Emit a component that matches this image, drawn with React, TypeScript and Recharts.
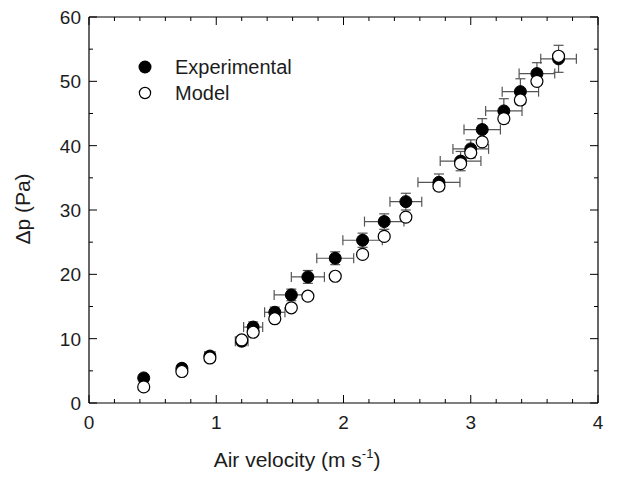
import { ScatterChart, Scatter, XAxis, YAxis, ErrorBar, Label } from 'recharts';

// air velocity (m/s) of each measurement
const velocity = [0.43, 0.73, 0.95, 1.2, 1.29, 1.46, 1.59, 1.72, 1.935, 2.15, 2.32, 2.49, 2.75, 2.92, 3.0, 3.09, 3.26, 3.39, 3.52, 3.69];
const dpExperimental = [3.9, 5.4, 7.3, 9.6, 11.8, 14.1, 16.8, 19.6, 22.5, 25.3, 28.2, 31.3, 34.3, 37.6, 39.5, 42.5, 45.4, 48.4, 51.2, 53.5];
const dpModel = [2.5, 4.9, 7.0, 9.8, 11.0, 13.1, 14.8, 16.6, 19.7, 23.1, 25.9, 28.9, 33.7, 37.2, 38.9, 40.6, 44.2, 47.1, 50.0, 53.9];
const velocityErr = [0.02, 0.03, 0.04, 0.05, 0.075, 0.08, 0.135, 0.13, 0.145, 0.155, 0.155, 0.125, 0.165, 0.16, 0.14, 0.143, 0.143, 0.143, 0.14, 0.14];
const dpErr = [0.5, 0.5, 0.6, 0.7, 0.8, 0.8, 0.9, 1.0, 1.0, 1.1, 1.2, 1.3, 1.3, 1.5, 1.4, 1.7, 1.9, 2.0, 1.7, 2.1];

const X_TICKS = [0, 0.2, 0.4, 0.6, 0.8, 1, 1.2, 1.4, 1.6, 1.8, 2, 2.2, 2.4, 2.6, 2.8, 3, 3.2, 3.4, 3.6, 3.8, 4];
const Y_TICKS = [0, 5, 10, 15, 20, 25, 30, 35, 40, 45, 50, 55, 60];

const expData = velocity.map((v, i) => ({ x: v, y: dpExperimental[i], ex: velocityErr[i], ey: dpErr[i] }));
const modelData = velocity.map((v, i) => ({ x: v, y: dpModel[i] }));

const FONT = '"Liberation Sans", Arial, sans-serif';
const TEXT = '#1c1c1c';

const isMajorX = (v: number) => Math.abs(v - Math.round(v)) < 1e-6;
const isMajorY = (v: number) => v % 10 === 0;

const BottomTick = (props: any) => {
    const { x, y, payload } = props;
    const major = isMajorX(payload.value);
    return (
        <g>
            <line x1={x} x2={x} y1={y} y2={y - (major ? 8 : 4)} stroke="#000" strokeWidth={1} />
            {major && (
                <text x={x} y={y + 26} textAnchor="middle" fontSize={19} fontFamily={FONT} fill={TEXT}>
                    {Math.round(payload.value)}
                </text>
            )}
        </g>
    );
};

const TopTick = (props: any) => {
    const { x, y, payload } = props;
    const major = isMajorX(payload.value);
    return <line x1={x} x2={x} y1={y} y2={y + (major ? 8 : 4)} stroke="#000" strokeWidth={1} />;
};

const LeftTick = (props: any) => {
    const { x, y, payload } = props;
    const major = isMajorY(payload.value);
    return (
        <g>
            <line x1={x} x2={x + (major ? 8 : 4)} y1={y} y2={y} stroke="#000" strokeWidth={1} />
            {major && (
                <text x={x - 8} y={y + 7} textAnchor="end" fontSize={19} fontFamily={FONT} fill={TEXT}>
                    {payload.value}
                </text>
            )}
        </g>
    );
};

const RightTick = (props: any) => {
    const { x, y, payload } = props;
    const major = isMajorY(payload.value);
    return <line x1={x} x2={x - (major ? 8 : 4)} y1={y} y2={y} stroke="#000" strokeWidth={1} />;
};

const FilledDot = (props: any) => <circle cx={props.cx} cy={props.cy} r={6} fill="#000" stroke="#000" />;
const OpenDot = (props: any) => <circle cx={props.cx} cy={props.cy} r={6} fill="#fff" stroke="#000" strokeWidth={1.2} />;
const NoDot = () => <g />;

function LegendBox() {
    return (
        <div
            style={{
                position: 'absolute',
                left: 138,
                top: 54,
                fontFamily: FONT,
                fontSize: 20,
                color: TEXT,
                lineHeight: '26px',
            }}
        >
            <div style={{ display: 'flex', alignItems: 'center' }}>
                <svg width={14} height={14}><circle cx={7} cy={7} r={6.5} fill="#000" /></svg>
                <span style={{ marginLeft: 23 }}>Experimental</span>
            </div>
            <div style={{ display: 'flex', alignItems: 'center' }}>
                <svg width={14} height={14}><circle cx={7} cy={7} r={5.6} fill="#fff" stroke="#000" strokeWidth={1.2} /></svg>
                <span style={{ marginLeft: 23 }}>Model</span>
            </div>
        </div>
    );
}

export default function App() {
    return (
        <div style={{ position: 'absolute', left: 0, top: 0, width: 619, height: 479, background: '#fff' }}>
            <ScatterChart width={619} height={479} margin={{ top: 16, right: 20, bottom: 26, left: 29 }}>
                <XAxis
                    xAxisId="bottom"
                    type="number"
                    dataKey="x"
                    domain={[0, 4]}
                    ticks={X_TICKS}
                    interval={0}
                    tick={<BottomTick />}
                    tickLine={false}
                    tickSize={0}
                    tickMargin={0}
                    axisLine={{ stroke: '#000', strokeWidth: 1.2 }}
                    height={50}
                    allowDataOverflow
                >
                    <Label
                        content={() => (
                            <text x={297} y={467} textAnchor="middle" fontSize={21} fontFamily={FONT} fill={TEXT}>
                                Air velocity (m s
                                <tspan dy={-9} fontSize={13}>-1</tspan>
                                <tspan dy={9}>)</tspan>
                            </text>
                        )}
                    />
                </XAxis>
                <XAxis
                    xAxisId="top"
                    orientation="top"
                    type="number"
                    dataKey="x"
                    domain={[0, 4]}
                    ticks={X_TICKS}
                    interval={0}
                    tick={<TopTick />}
                    tickLine={false}
                    tickSize={0}
                    tickMargin={0}
                    axisLine={{ stroke: '#000', strokeWidth: 1.2 }}
                    height={1}
                    allowDataOverflow
                />
                <YAxis
                    yAxisId="left"
                    type="number"
                    dataKey="y"
                    domain={[0, 60]}
                    ticks={Y_TICKS}
                    interval={0}
                    tick={<LeftTick />}
                    tickLine={false}
                    tickSize={0}
                    tickMargin={0}
                    axisLine={{ stroke: '#000', strokeWidth: 1.2 }}
                    width={60}
                    allowDataOverflow
                >
                    <Label
                        content={() => (
                            <text
                                x={22}
                                y={209}
                                transform="rotate(-90 22 209)"
                                textAnchor="middle"
                                dominantBaseline="central"
                                fontSize={21}
                                fontFamily={FONT}
                                fill={TEXT}
                            >
                                Δp (Pa)
                            </text>
                        )}
                    />
                </YAxis>
                <YAxis
                    yAxisId="right"
                    orientation="right"
                    type="number"
                    dataKey="y"
                    domain={[0, 60]}
                    ticks={Y_TICKS}
                    interval={0}
                    tick={<RightTick />}
                    tickLine={false}
                    tickSize={0}
                    tickMargin={0}
                    axisLine={{ stroke: '#000', strokeWidth: 1.2 }}
                    width={1}
                    allowDataOverflow
                />
                {/* hidden series so the top/right frame axes get drawn */}
                <Scatter
                    data={modelData}
                    xAxisId="top"
                    yAxisId="right"
                    shape={<NoDot />}
                    legendType="none"
                    isAnimationActive={false}
                />
                <Scatter
                    name="Experimental"
                    data={expData}
                    xAxisId="bottom"
                    yAxisId="left"
                    shape={<FilledDot />}
                    isAnimationActive={false}
                >
                    <ErrorBar dataKey="ex" direction="x" width={5} stroke="#555" strokeWidth={1.2} isAnimationActive={false} />
                    <ErrorBar dataKey="ey" direction="y" width={5} stroke="#555" strokeWidth={1.2} isAnimationActive={false} />
                </Scatter>
                <Scatter
                    name="Model"
                    data={modelData}
                    xAxisId="bottom"
                    yAxisId="left"
                    shape={<OpenDot />}
                    isAnimationActive={false}
                />
            </ScatterChart>
            <LegendBox />
        </div>
    );
}
